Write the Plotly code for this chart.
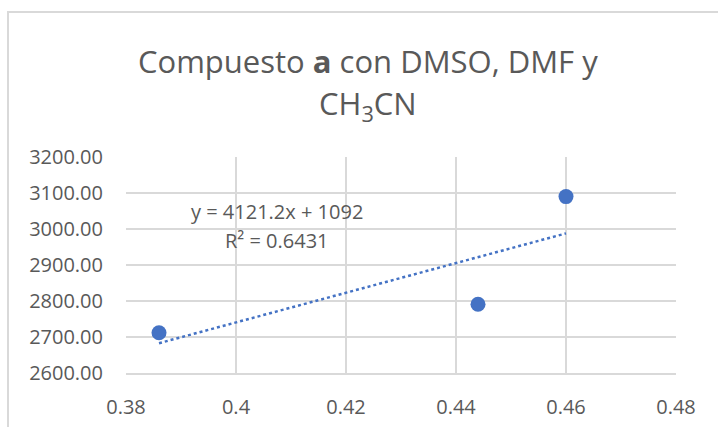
import plotly.graph_objects as go

# Data
x_vals = [0.386, 0.444, 0.460]
y_vals = [2712, 2791, 3090]
slope = 4121.2
intercept = 1092
r2 = 0.6431
title_line1 = "Compuesto <b>a</b> con DMSO, DMF y"
title_line2 = "CH<sub>3</sub>CN"
eq_text = "y = 4121.2x + 1092"
r2_text = "R² = 0.6431"
x_ticks = [0.38, 0.40, 0.42, 0.44, 0.46, 0.48]
x_ticktext = ["0.38", "0.4", "0.42", "0.44", "0.46", "0.48"]
y_ticks = [2600, 2700, 2800, 2900, 3000, 3100, 3200]

blue = "#4472C4"
grid = "#D9D9D9"
txt = "#595959"
font_fam = "Open Sans, Liberation Sans, sans-serif"

x_tr = [min(x_vals), max(x_vals)]
y_tr = [slope * v + intercept for v in x_tr]

fig = go.Figure()
fig.add_trace(go.Scatter(x=x_tr, y=y_tr, mode="lines",
                         line=dict(color=blue, width=2.5, dash="dot"),
                         hoverinfo="skip", showlegend=False))
fig.add_trace(go.Scatter(x=x_vals, y=y_vals, mode="markers",
                         marker=dict(color=blue, size=15),
                         showlegend=False))

fig.update_layout(
    width=718, height=427,
    margin=dict(l=126, r=42, t=157, b=54),
    paper_bgcolor="white", plot_bgcolor="white",
    font=dict(family=font_fam, color=txt),
    xaxis=dict(range=[0.38, 0.48], tickvals=x_ticks, ticktext=x_ticktext,
               showgrid=True, gridcolor=grid, gridwidth=1.5,
               zeroline=False, showline=True, linecolor=grid, linewidth=1.5,
               tickfont=dict(size=20, color=txt), ticks="", ticklen=0,
               ticklabelstandoff=15, automargin=False),
    yaxis=dict(range=[2600, 3200], tickvals=y_ticks, tickformat=".2f",
               showgrid=True, gridcolor=grid, gridwidth=1.5,
               zeroline=False, showline=False,
               tickfont=dict(size=20, color=txt), ticks="", ticklen=0,
               ticklabelstandoff=22, automargin=False),
    shapes=[dict(type="rect", xref="paper", yref="paper",
                 x0=(8 - 126) / 550, x1=2, y0=-1, y1=(373 - 12) / 216,
                 line=dict(color=grid, width=2), layer="below")],
    annotations=[
        dict(xref="paper", yref="paper", x=(368 - 126) / 550, y=(373 - 61) / 216,
             text=title_line1, showarrow=False, font=dict(size=31, color=txt),
             xanchor="center", yanchor="middle"),
        dict(xref="paper", yref="paper", x=(368 - 126) / 550, y=(373 - 105) / 216,
             text=title_line2, showarrow=False, font=dict(size=31, color=txt),
             xanchor="center", yanchor="middle"),
        dict(xref="paper", yref="paper", x=(277 - 126) / 550, y=(373 - 211) / 216,
             text=eq_text, showarrow=False, font=dict(size=20, color=txt),
             xanchor="center", yanchor="middle"),
        dict(xref="paper", yref="paper", x=(277 - 126) / 550, y=(373 - 240) / 216,
             text=r2_text, showarrow=False, font=dict(size=20, color=txt),
             xanchor="center", yanchor="middle"),
    ],
)

fig.write_html("out.html")
